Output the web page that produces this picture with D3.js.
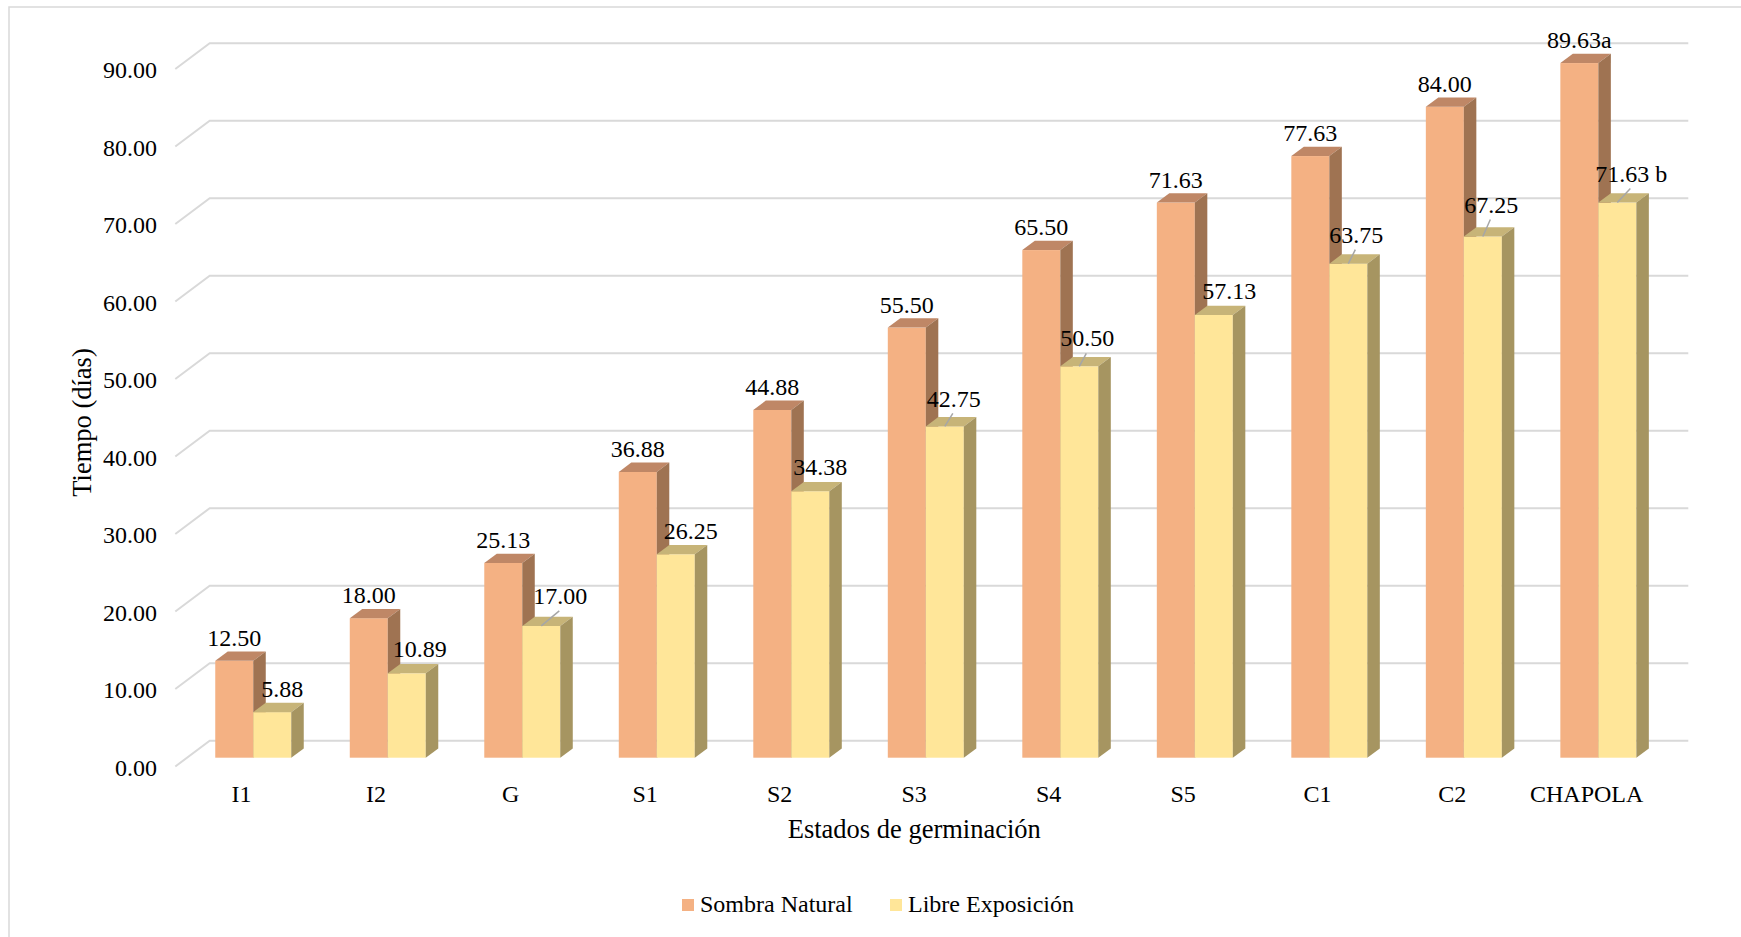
<!DOCTYPE html>
<html>
<head>
<meta charset="utf-8">
<script src="https://cdn.jsdelivr.net/npm/d3@7"></script>
<style>
  html, body { margin: 0; padding: 0; background: #ffffff; }
  svg { display: block; }
  text { font-family: "Liberation Serif", "Times New Roman", serif; fill: #000; }
</style>
</head>
<body>
<svg id="chart" width="1741" height="937"></svg>
<script>
// ---------------- data ----------------
const categories = ["I1", "I2", "G", "S1", "S2", "S3", "S4", "S5", "C1", "C2", "CHAPOLA"];
const sombraNatural = [12.50, 18.00, 25.13, 36.88, 44.88, 55.50, 65.50, 71.63, 77.63, 84.00, 89.63];
const libreExposicion = [5.88, 10.89, 17.00, 26.25, 34.38, 42.75, 50.50, 57.13, 63.75, 67.25, 71.63];
const sombraLetters = ["", "", "", "", "", "", "", "", "", "", "a"];
const libreLetters = ["", "", "", "", "", "", "", "", "", "", " b"];
const seriesNames = ["Sombra Natural", "Libre Exposición"];
const yTicks = [0, 10, 20, 30, 40, 50, 60, 70, 80, 90];
const yTitle = "Tiempo (días)";
const xTitle = "Estados de germinación";

// ---------------- layout / style ----------------
const colors = {
  front: ["#F4B183", "#FFE699"],
  top:   ["#BF8766", "#C7B478"],
  side:  ["#9F7352", "#A69561"]
};
// manual label nudges for the "Libre Exposición" labels (as placed in the original)
const libreLabelDx = [10, 13, 19, 15, 10, 9, 8, 15.5, 8, 8.5, 14];
const libreLabelDy = [-23, -24, -30, -23, -24, -28, -28, -24, -29, -32, -29];

const svg = d3.select("#chart");
const FS = 24;          // data / tick font size
const TFS = 26.5;       // axis-title font size
const depthX = 12.5, depthY = -9.3;   // bar depth
const floorFront = { dx: -11.7, dy: 8.8 };   // from bar front plane to floor front edge
const floorBack = { dx: 22.7, dy: -17 };     // from bar front plane to back wall

// chart border (left/top visible)
svg.append("rect")
  .attr("x", 9).attr("y", 7)
  .attr("width", 1760).attr("height", 960)
  .attr("fill", "none").attr("stroke", "#D9D9D9").attr("stroke-width", 1.5);

const x = d3.scaleBand()
  .domain(categories)
  .range([186, 1665.6])
  .paddingInner(0.435)
  .paddingOuter(0.2175);
const xs = d3.scaleBand().domain([0, 1]).range([0, x.bandwidth()]);
const y = d3.scaleLinear().domain([0, 90]).range([757.7, 60.2]);

// gridlines (back wall + floor edge diagonal)
const gx0 = x.range()[0] - 10.7;        // front-edge start
const gx1 = gx0 + 34.4;                 // back-wall start
const gx2 = 1688.3;                     // back-wall end
const grid = svg.append("g").attr("class", "grid");
yTicks.forEach(v => {
  const yb = y(v) + floorBack.dy;
  const yf = y(v) + floorFront.dy;
  grid.append("path")
    .attr("d", `M${gx0},${yf} L${gx1},${yb} L${gx2},${yb}`)
    .attr("fill", "none")
    .attr("stroke", "#D9D9D9")
    .attr("stroke-width", 2);
});

// y tick labels
svg.append("g").selectAll("text")
  .data(yTicks)
  .join("text")
  .attr("x", 157)
  .attr("y", d => y(d) + floorFront.dy + 1 + FS * 0.34)
  .attr("text-anchor", "end")
  .attr("font-size", FS)
  .text(d3.format(".2f"));

// bars
const seriesData = [sombraNatural, libreExposicion];
const bars = svg.append("g").attr("class", "bars");
categories.forEach((c, i) => {
  [0, 1].forEach(s => {
    const v = seriesData[s][i];
    const x0 = x(c) + xs(s);
    const w = xs.bandwidth();
    const yt = y(v), yb = y(0);
    const g = bars.append("g");
    // front
    g.append("rect")
      .attr("x", x0).attr("y", yt)
      .attr("width", w).attr("height", yb - yt)
      .attr("fill", colors.front[s]);
    // top
    g.append("path")
      .attr("d", `M${x0},${yt} L${x0 + depthX},${yt + depthY} L${x0 + w + depthX},${yt + depthY} L${x0 + w},${yt} Z`)
      .attr("fill", colors.top[s]);
    // side
    g.append("path")
      .attr("d", `M${x0 + w},${yt} L${x0 + w + depthX},${yt + depthY} L${x0 + w + depthX},${yb + depthY} L${x0 + w},${yb} Z`)
      .attr("fill", colors.side[s]);
  });
});

// data labels
const labels = svg.append("g").attr("class", "labels");
categories.forEach((c, i) => {
  // Sombra Natural
  const v0 = sombraNatural[i];
  const cx0 = x(c) + xs(0) + xs.bandwidth() / 2;
  labels.append("text")
    .attr("x", cx0)
    .attr("y", y(v0) - 23 + FS * 0.34)
    .attr("text-anchor", "middle")
    .attr("font-size", FS)
    .text(d3.format(".2f")(v0) + sombraLetters[i]);

  // Libre Exposición
  const v1 = libreExposicion[i];
  const cx1 = x(c) + xs(1) + xs.bandwidth() / 2;
  const lx = cx1 + libreLabelDx[i];
  const ly = y(v1) + libreLabelDy[i];
  const num = d3.format(".2f")(v1);
  const t = labels.append("text")
    .attr("x", lx)
    .attr("y", ly + FS * 0.34)
    .attr("text-anchor", "middle")
    .attr("font-size", FS)
    .text(num + libreLetters[i]);
  if (libreLabelDy[i] <= -27) {
    labels.append("line")
      .attr("x1", cx1).attr("y1", y(v1))
      .attr("x2", lx - 1).attr("y2", ly + 15)
      .attr("stroke", "#A6A6A6").attr("stroke-width", 1.5);
  }
});

// x labels (on floor front edge)
svg.append("g").selectAll("text")
  .data(categories)
  .join("text")
  .attr("x", d => x(d) + x.bandwidth() / 2 + floorFront.dx)
  .attr("y", 794 + FS * 0.34)
  .attr("text-anchor", "middle")
  .attr("font-size", FS)
  .text(d => d);

// axis titles
svg.append("text")
  .attr("transform", `translate(${82.7 + TFS * 0.3},422.5) rotate(-90)`)
  .attr("text-anchor", "middle")
  .attr("font-size", TFS)
  .text(yTitle);

svg.append("text")
  .attr("x", 914.3)
  .attr("y", 830.5 + TFS * 0.3)
  .attr("text-anchor", "middle")
  .attr("font-size", TFS)
  .text(xTitle);

// legend
const legendX = [682, 890];
const leg = svg.append("g").attr("class", "legend");
seriesNames.forEach((n, s) => {
  leg.append("rect")
    .attr("x", legendX[s]).attr("y", 899)
    .attr("width", 12).attr("height", 12)
    .attr("fill", colors.front[s]);
  leg.append("text")
    .attr("x", legendX[s] + 18)
    .attr("y", 905 + FS * 0.3)
    .attr("font-size", FS)
    .text(n);
});
</script>
</body>
</html>
